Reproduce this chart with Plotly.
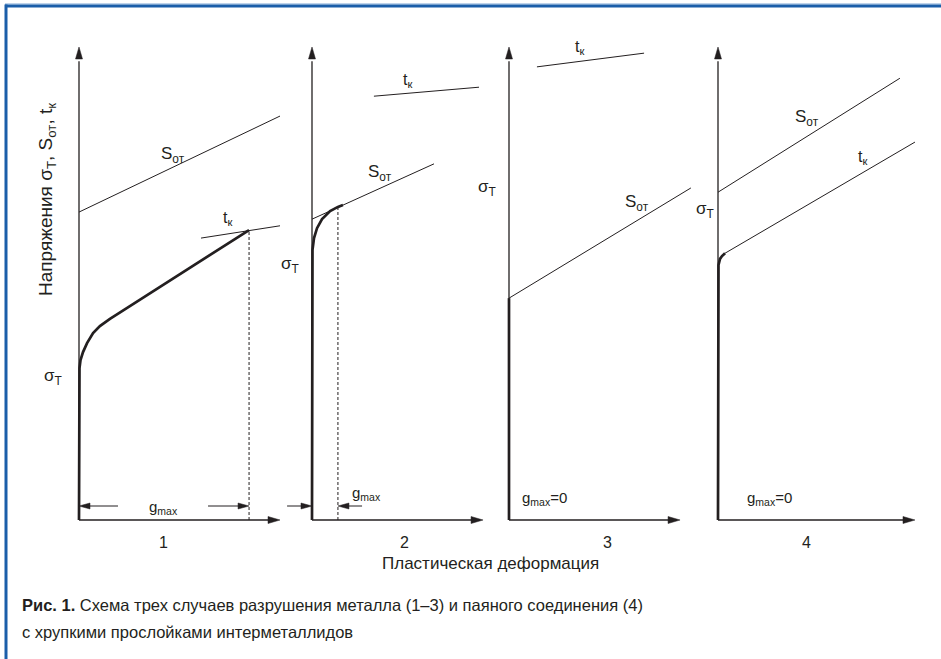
import plotly.graph_objects as go

W, H = 941, 659

# ---------------- data (schematic units: plastic deformation, stress) ----------------
cases = ["1", "2", "3", "4"]
def_axis_len = [100.0, 85.1, 85.1, 98.0]
stress_axis_len = 100.0

s_ot_x = [[0, 100], [0, 60.7], [0, 90.5], [0, 90.5]]
s_ot_y = [[65.1, 85.4], [63.6, 75.3], [46.9, 70.2], [69.3, 93.4]]

t_k_x = [[60.7, 100], [30.8, 83.1], [13.9, 67.2], [3.5, 98.0]]
t_k_y = [[59.6, 62.2], [89.6, 91.5], [95.8, 98.7], [56.4, 79.9]]

curve1_x = [0, 0, 0.25, 0.75, 2, 4, 7, 10.4, 15.4, 30, 50, 70, 84.6]
curve1_y = [0, 29.6, 32.1, 33.8, 35.5, 37.4, 39.5, 41.0, 42.5, 46.5, 51.9, 57.3, 61.3]
curve2_x = [0, 0, 0.25, 1, 2.5, 5, 9, 12.9, 15.4]
curve2_y = [0, 54.5, 57.1, 59.6, 61.7, 63.6, 65.3, 66.2, 66.6]
curve3_x = [0, 0]
curve3_y = [0, 46.9]
curve4_x = [0, 0, 0.25, 1, 2, 3.5]
curve4_y = [0, 51.8, 53.9, 55.2, 55.8, 56.4]
curves_x = [curve1_x, curve2_x, curve3_x, curve4_x]
curves_y = [curve1_y, curve2_y, curve3_y, curve4_y]

g_max_x = [84.6, 12.9, 0.0, 0.0]      # deformation at fracture
g_max_top = [61.3, 66.2, None, None]  # stress at fracture (dashed line top)
g_max_text = ["g<sub>max</sub>", "g<sub>max</sub>", "g<sub>max</sub>=0", "g<sub>max</sub>=0"]

# label positions (schematic units)
sigma_lbl = [(-12.9, 30.2), (-10.9, 53.9), (-10.9, 70.2), (-6.5, 65.5)]
s_ot_lbl = [(46.8, 77.2), (33.8, 73.4), (63.7, 67.0), (44.3, 85.0)]
t_k_lbl = [(74.1, 63.8), (47.3, 93.0), (35.3, 99.8), (72.1, 76.7)]
gmax_lbl = [(41.8, 2.6), (27.1, 5.7), (17.9, 4.65), (25.4, 4.65)]
case_lbl = [41.8, 45.8, 48.8, 43.8]

y_title = "Напряжения σ<sub>T</sub>, S<sub>от</sub>, t<sub>к</sub>"
x_title = "Пластическая деформация"
cap_bold = "Рис. 1."
cap_line1 = " Схема трех случаев разрушения металла (1–3) и паяного соединения (4)"
cap_line2 = "с хрупкими прослойками интерметаллидов"

# ---------------- layout geometry ----------------
ORIGIN_PX = [79, 312, 509, 718]   # panel origin x in pixels
Y0_PX = 520                        # origin y in pixels
SX = 2.01                          # px per deformation unit
SY = 4.73                          # px per stress unit
INK = "#231f20"
FONT = "Liberation Sans, Arial, sans-serif"

fig = go.Figure()

def xr(i):
    return "x" if i == 0 else "x%d" % (i + 1)

def seg(i, xs, ys, width, dash=None):
    fig.add_trace(go.Scatter(x=xs, y=ys, xaxis=xr(i), yaxis="y", mode="lines",
                             line=dict(color=INK, width=width, dash=dash),
                             hoverinfo="skip", showlegend=False))

def head(i, tx, ty, direction, length=12, half=3.5):
    L = length
    if direction == "up":
        xs = [tx, tx - half / SX, tx + half / SX, tx]
        ys = [ty, ty - L / SY, ty - L / SY, ty]
    elif direction == "right":
        xs = [tx, tx - L / SX, tx - L / SX, tx]
        ys = [ty, ty + half / SY, ty - half / SY, ty]
    else:  # left
        xs = [tx, tx + L / SX, tx + L / SX, tx]
        ys = [ty, ty + half / SY, ty - half / SY, ty]
    fig.add_trace(go.Scatter(x=xs, y=ys, xaxis=xr(i), yaxis="y", mode="lines",
                             fill="toself", fillcolor=INK, line=dict(color=INK, width=0.5),
                             hoverinfo="skip", showlegend=False))

annotations = []
def txt(i, x, y, text, size=16, xanchor="center", ref=None):
    annotations.append(dict(x=x, y=y, xref=ref or xr(i), yref="y" if ref is None else "paper",
                            text=text, showarrow=False, xanchor=xanchor, yanchor="middle",
                            font=dict(family=FONT, size=size, color=INK)))

arrow_y = (Y0_PX - 506) / SY

for i in range(4):
    # axes with arrows
    seg(i, [0, 0], [0, stress_axis_len - 3], 1.3)
    head(i, 0, stress_axis_len, "up")
    seg(i, [0, def_axis_len[i] - 3], [0, 0], 1.3)
    head(i, def_axis_len[i], 0, "right")
    # S_ot and t_k
    seg(i, s_ot_x[i], s_ot_y[i], 1.0)
    seg(i, t_k_x[i], t_k_y[i], 1.0)
    # stress-strain curve
    seg(i, curves_x[i], curves_y[i], 2.7)
    # labels
    txt(i, *sigma_lbl[i], "σ<sub>T</sub>", 17)
    txt(i, *s_ot_lbl[i], "S<sub>от</sub>", 17)
    txt(i, *t_k_lbl[i], "t<sub>к</sub>", 16)
    txt(i, *gmax_lbl[i], g_max_text[i], 15)
    txt(i, case_lbl[i], (Y0_PX - 542) / SY, cases[i], 16)

# dashed fracture lines and g_max dimension arrows
seg(0, [g_max_x[0], g_max_x[0]], [0, g_max_top[0]], 1.0, "3px,2px")
seg(1, [g_max_x[1], g_max_x[1]], [0, g_max_top[1]], 1.0, "3px,2px")
# case 1: arrows pointing outward to 0 and g_max
seg(0, [19.4, 3], [arrow_y, arrow_y], 1.0)
head(0, 0, arrow_y, "left", 11, 3)
seg(0, [64.2, g_max_x[0] - 3], [arrow_y, arrow_y], 1.0)
head(0, g_max_x[0], arrow_y, "right", 11, 3)
# case 2: arrows pointing inward
seg(1, [-12.4, -3], [arrow_y, arrow_y], 1.0)
head(1, 0, arrow_y, "right", 11, 3)
seg(1, [24.9, g_max_x[1] + 3], [arrow_y, arrow_y], 1.0)
head(1, g_max_x[1], arrow_y, "left", 11, 3)

# axis titles and caption (paper positions)
annotations.append(dict(x=47 / W, y=1 - 200 / H, xref="paper", yref="paper", text=y_title,
                        textangle=-90, showarrow=False, xanchor="center", yanchor="middle",
                        font=dict(family=FONT, size=19, color=INK)))
annotations.append(dict(x=490 / W, y=1 - 563 / H, xref="paper", yref="paper", text=x_title,
                        showarrow=False, xanchor="center", yanchor="middle",
                        font=dict(family=FONT, size=17, color=INK)))
annotations.append(dict(x=20 / W, y=1 - 605 / H, xref="paper", yref="paper",
                        text="<b>" + cap_bold + "</b>" + cap_line1,
                        showarrow=False, xanchor="left", yanchor="middle",
                        font=dict(family=FONT, size=16.5, color=INK)))
annotations.append(dict(x=20 / W, y=1 - 632 / H, xref="paper", yref="paper", text=cap_line2,
                        showarrow=False, xanchor="left", yanchor="middle",
                        font=dict(family=FONT, size=16.5, color=INK)))

# axes
layout_axes = {}
for i, o in enumerate(ORIGIN_PX):
    d0 = max(0, o - 60)
    d1 = min(W, o + 230)
    name = "xaxis" if i == 0 else "xaxis%d" % (i + 1)
    layout_axes[name] = dict(domain=[d0 / W, d1 / W], range=[(d0 - o) / SX, (d1 - o) / SX],
                             visible=False, anchor="y", fixedrange=True)
layout_axes["yaxis"] = dict(domain=[0, 1], range=[(Y0_PX - H) / SY, Y0_PX / SY],
                            visible=False, anchor="x", fixedrange=True)

BLUE = "#1b5ea9"
shapes = [
    dict(type="line", xref="paper", yref="paper", x0=5 / W, x1=1, y0=1 - 3.8 / H, y1=1 - 3.8 / H,
         line=dict(color="#a9c5e4", width=1.2)),
    dict(type="line", xref="paper", yref="paper", x0=5 / W, x1=1, y0=1 - 6 / H, y1=1 - 6 / H,
         line=dict(color=BLUE, width=3)),
    dict(type="line", xref="paper", yref="paper", x0=6 / W, x1=6 / W, y0=1 - 4.5 / H, y1=0,
         line=dict(color=BLUE, width=3)),
]

fig.update_layout(width=W, height=H, margin=dict(l=0, r=0, t=0, b=0),
                  paper_bgcolor="white", plot_bgcolor="rgba(0,0,0,0)",
                  showlegend=False, annotations=annotations, shapes=shapes,
                  **layout_axes)

fig.write_html("out.html", config={"displayModeBar": False})
